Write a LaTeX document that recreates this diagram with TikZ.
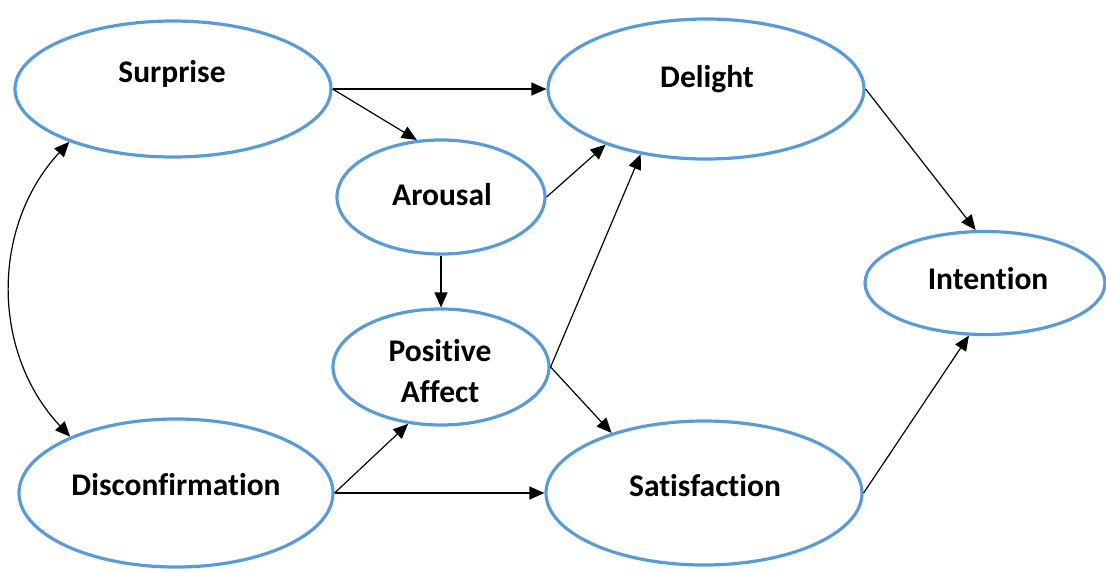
\documentclass[tikz,border=0pt]{standalone}
\usepackage{fontspec}
\setmainfont{Carlito}[Ligatures={NoCommon}]
\usetikzlibrary{shapes.geometric,arrows.meta}
\definecolor{ringblue}{HTML}{5B9BD5}
\begin{document}
\begin{tikzpicture}[x=1pt,y=-1pt,
  construct/.style={ellipse,draw=ringblue,line width=3.2pt,inner sep=0pt},
  caption/.style={font=\fontsize{31.5}{41}\selectfont\bfseries,anchor=base,align=center,inner sep=0pt},
  link/.style={line width=1.2pt,-{Triangle[length=15pt,width=13pt]}},
  biglink/.style={line width=1.2pt,{Triangle[length=15pt,width=13pt]}-{Triangle[length=15pt,width=13pt]}}]
\useasboundingbox (0,0) rectangle (1106,571);

% constructs
\node[construct,minimum width=316pt,minimum height=136pt] (sur) at (173,89) {};
\node[construct,minimum width=316pt,minimum height=140pt] (del) at (706,89) {};
\node[construct,minimum width=208pt,minimum height=114pt] (aro) at (441,197) {};
\node[construct,minimum width=216pt,minimum height=116pt] (pa)  at (441,367) {};
\node[construct,minimum width=240pt,minimum height=103pt] (int) at (985,283) {};
\node[construct,minimum width=314pt,minimum height=148pt] (dis) at (176,493) {};
\node[construct,minimum width=316pt,minimum height=144pt] (sat) at (704,493) {};

% labels
\node[caption] (surT) at (172,82) {Surprise};
\node[caption] (delT) at (707,87) {Delight};
\node[caption] (aroT) at (442,205) {Arousal};
\node[caption] (paT1) at (440,361) {Positive};
\node[caption] (paT2) at (440,402) {Affect};
\node[caption] (intT) at (988,289) {Intention};
\node[caption] (disT) at (176,495) {Disconfirmation};
\node[caption] (satT) at (705,496) {Satisfaction};

% paths
\draw[link] (sur.east) -- (del.west);
\draw[link] (sur.east) -- (aro.113);
\draw[link] (aro.east) -- (del.209);
\draw[link] (aro.south) -- (pa.north);
\draw[link] (pa.east) -- (del.225);
\draw[link] (pa.east) -- (sat.147);
\draw[link] (dis.east) -- (pa.240);
\draw[link] (dis.east) -- (sat.west);
\draw[link] (del.east) -- (int.100);
\draw[link] (sat.east) -- (int.253);
\draw[biglink] (sur.207) to[bend right=43] (dis.152);
\end{tikzpicture}
\end{document}
